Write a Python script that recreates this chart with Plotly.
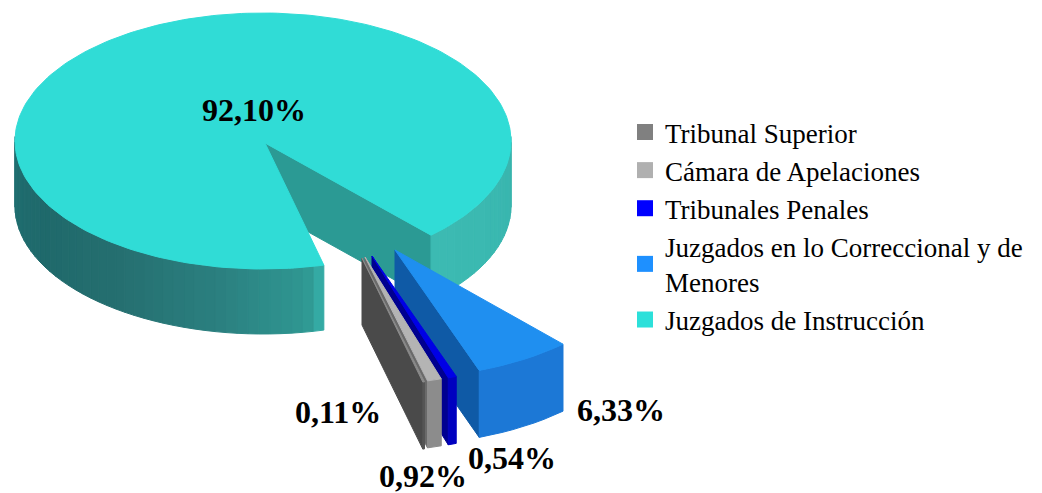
import math
import plotly.graph_objects as go

# --- data ---
categories = ["Tribunal Superior", "Cámara de Apelaciones", "Tribunales Penales",
              "Juzgados en lo Correccional y de<br>Menores", "Juzgados de Instrucción"]
values = [0.11, 0.92, 0.54, 6.33, 92.10]
top_colors = ["#8a8a8a", "#b4b4b4", "#0000e6", "#1f8ff0", "#30dcd6"]
legend_colors = ["#808080", "#b0b0b0", "#0000ff", "#1e90ff", "#2ce0da"]
wall_colors = ["#555555", "#8c8c8c", "#0000c0", "#1c78d6", None]
face_colors = ["#4a4a4a", "#6a6a6a", "#000090", "#0f5aa6", "#2b9a94"]

# --- pie geometry (pixel space) ---
CX, CY = 263, 141
RX, RY = 248, 128
DEPTH = 65
START = 75.8
# apex of every slice on the page
apexes = [(362, 258), (365, 257), (372, 256), (395, 250), (265, 143)]
depths = [67, 67, 67, 67, 65]
label_xy = [(338, 412), (423, 476), (512, 458), (621, 410), (254, 110)]


def ellipse_arc(apex, a0, a1, n, dy=0):
    ax, ay = apex
    return [(ax + RX * math.cos(math.radians(a0 + (a1 - a0) * i / n)),
             ay + RY * math.sin(math.radians(a0 + (a1 - a0) * i / n)) + dy)
            for i in range(n + 1)]


def poly(fig, pts, color):
    xs = [p[0] for p in pts] + [pts[0][0]]
    ys = [p[1] for p in pts] + [pts[0][1]]
    fig.add_trace(go.Scatter(x=xs, y=ys, mode="lines", fill="toself", fillcolor=color,
                             line=dict(color=color, width=1), hoverinfo="skip", showlegend=False))


def lerp_color(stops, t):
    for (t0, c0), (t1, c1) in zip(stops, stops[1:]):
        if t0 <= t <= t1:
            f = (t - t0) / (t1 - t0)
            a = [int(c0[i:i + 2], 16) for i in (1, 3, 5)]
            b = [int(c1[i:i + 2], 16) for i in (1, 3, 5)]
            return "#%02x%02x%02x" % tuple(round(x + (y - x) * f) for x, y in zip(a, b))
    return stops[-1][1]


main_stops = [(-10, "#38b2ac"), (20, "#3ab8b0"), (47.5, "#3cbab2"), (75, "#38b8b0"), (80, "#2f9792"),
              (100, "#2b8080"), (125, "#256f70"), (150, "#1f696b"), (183, "#1f6e70")]

fig = go.Figure()

# slice angles: every slice sweeps its share of the full turn
angles = []
a = START
for v in values:
    angles.append((a - v * 3.6, a))
    a -= v * 3.6

apex = apexes[4]
gap_end = angles[4][1]          # the main slice's far edge, looking into the gap

# radial face that looks into the gap
end_pt = (CX + RX * math.cos(math.radians(gap_end)), CY + RY * math.sin(math.radians(gap_end)))
poly(fig, [apex, end_pt, (end_pt[0], end_pt[1] + DEPTH), (apex[0], apex[1] + DEPTH)], face_colors[4])


def wall_band(center, t0, t1, depth, color):
    arc_top = ellipse_arc(center, t0, t1, 4)
    arc_bot = ellipse_arc(center, t1, t0, 4, depth)
    poly(fig, arc_top + arc_bot, color)


for lo, hi in ((-2, gap_end), (START, 182)):
    n = max(2, int((hi - lo) / 2.5))
    for i in range(n):
        t0 = lo + (hi - lo) * i / n
        t1 = lo + (hi - lo) * (i + 1) / n
        wall_band((CX, CY), t0, t1, DEPTH, lerp_color(main_stops, (t0 + t1) / 2))

top = ellipse_arc((CX, CY), START, gap_end + 360, 240)
poly(fig, [apex] + top, top_colors[4])

# exploded slices, back to front
for idx in (3, 2, 1, 0):
    a0, a1 = angles[idx]
    ap = apexes[idx]
    d = depths[idx]
    outer = ellipse_arc(ap, a0, a1, 8)
    last = outer[-1]
    poly(fig, [ap, last, (last[0], last[1] + d), (ap[0], ap[1] + d)], face_colors[idx])
    poly(fig, outer + ellipse_arc(ap, a1, a0, 8, d), wall_colors[idx])
    poly(fig, [ap] + outer, top_colors[idx])

# value labels
for (x, y), v in zip(label_xy, values):
    fig.add_annotation(x=x, y=y, text="<b>" + f"{v:.2f}".replace(".", ",") + "%</b>",
                       showarrow=False, xanchor="center", yanchor="middle",
                       font=dict(family="Liberation Serif", size=32, color="black"))

# legend entries
for name, col in zip(categories, legend_colors):
    fig.add_trace(go.Scatter(x=[None], y=[None], mode="markers", name=name, legendgroup=name,
                             marker=dict(symbol="square", size=16, color=col)))

fig.update_layout(
    width=1042, height=493, margin=dict(l=0, r=0, t=0, b=0),
    paper_bgcolor="white", plot_bgcolor="white",
    xaxis=dict(range=[0, 1042], visible=False, fixedrange=True),
    yaxis=dict(range=[493, 0], visible=False, fixedrange=True),
    font=dict(family="Liberation Serif", color="black"),
    legend=dict(x=0.5998, y=0.781, xanchor="left", yanchor="top", font=dict(size=27),
                tracegroupgap=0, bgcolor="rgba(0,0,0,0)", itemclick=False, itemdoubleclick=False),
)
fig.write_html("out.html", config={"displayModeBar": False},
               post_script="document.body.style.margin='0';")
